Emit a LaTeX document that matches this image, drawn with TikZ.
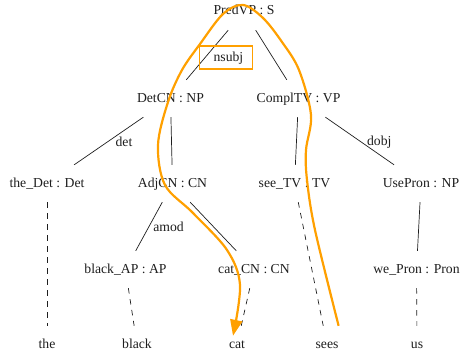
\documentclass[tikz,border=0pt]{standalone}
\usepackage{fontspec}
\setmainfont{Liberation Serif}
\usetikzlibrary{arrows.meta}
\definecolor{hilite}{RGB}{255,160,0}
\definecolor{ink}{RGB}{30,30,30}
\begin{document}
\begin{tikzpicture}[x=1pt,y=-1pt,
  tnode/.style={font=\fontsize{13.7}{16}\selectfont, text=ink, text height=10pt,
    text depth=3pt, inner xsep=2pt, inner ysep=12pt, anchor=base},
  branch/.style={draw=ink, line width=0.7pt},
  leaf/.style={branch, dash pattern=on 5.5pt off 5.5pt},
  dep/.style={font=\fontsize{13.7}{16}\selectfont, text=ink, inner sep=2pt,
    anchor=base west, pos=0.5},
  hlbox/.style={draw=hilite, line width=1.8pt, minimum width=53pt,
    minimum height=23pt, inner sep=0pt},
  trace/.style={draw=hilite, line width=2.2pt, line join=round,
    -{Triangle[length=16pt,width=12pt]}}
]
\useasboundingbox (0,0) rectangle (460,353);

% abstract syntax tree
\node[tnode] (predvp)  at (244,15)    {PredVP : S};
\node[tnode] (detcn)   at (170.5,102) {DetCN : NP};
\node[tnode] (compltv) at (298.5,102) {ComplTV : VP};
\node[tnode] (thedet)  at (47,187)    {the\_Det : Det};
\node[tnode] (adjcn)   at (172.5,187) {AdjCN : CN};
\node[tnode] (seetv)   at (294.5,187) {see\_TV : TV};
\node[tnode] (usepron) at (421,187)   {UsePron : NP};
\node[tnode] (blackap) at (125.5,273) {black\_AP : AP};
\node[tnode] (catcn)   at (254,273)   {cat\_CN : CN};
\node[tnode] (wepron)  at (416.5,273) {we\_Pron : Pron};

% surface words
\node[tnode] (the)   at (47,348)  {the};
\node[tnode] (black) at (137,348) {black};
\node[tnode] (cat)   at (237,348) {cat};
\node[tnode] (sees)  at (327,348) {sees};
\node[tnode] (us)    at (417,348) {us};

% tree branches with dependency labels
\draw[branch] (predvp) -- node[dep, xshift=4pt, yshift=-7pt] (nsubj) {nsubj} (detcn);
\draw[branch] (predvp) -- (compltv);
\draw[branch] (detcn) -- node[dep, xshift=4.5pt, yshift=-5pt] {det} (thedet);
\draw[branch] (detcn) -- (adjcn);
\draw[branch] (compltv) -- (seetv);
\draw[branch] (compltv) -- node[dep, xshift=5pt, yshift=-4.5pt] {dobj} (usepron);
\draw[branch] (adjcn) -- node[dep, xshift=2pt, yshift=-5pt] {amod} (blackap);
\draw[branch] (adjcn) -- (catcn);
\draw[branch] (usepron) -- (wepron);

% lexical links
\draw[leaf] (thedet) -- (the);
\draw[leaf] (blackap) -- (black);
\draw[leaf] (catcn) -- (cat);
\draw[leaf] (seetv) -- (sees);
\draw[leaf] (wepron) -- (us);

% highlighted relation and its path through the tree
\node[hlbox] (hl) at (226,57.7) {};
\draw[trace] plot[smooth, tension=0.55] coordinates {
  ([xshift=-2pt]sees.north east) (315,230) (307,180) (306,150) (311,115)
  (299,70) (282,42) (263,18) (243,5) (223,14) (200,44) (182,70) (168,102)
  (158,145) (165,185) (193,213) (227,250) (240,285)
  ([xshift=-4pt,yshift=-10pt]cat.north)};
\end{tikzpicture}
\end{document}
